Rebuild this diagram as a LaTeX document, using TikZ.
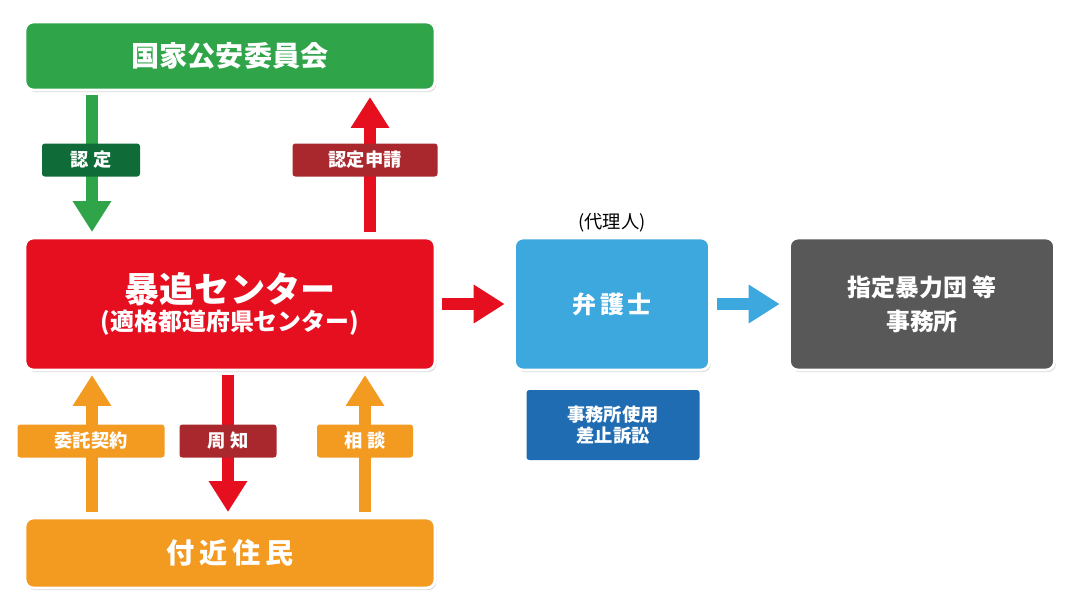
\documentclass[tikz,border=0pt]{standalone}
\usepackage{fontspec}
\setmainfont{Noto Sans CJK JP}
\newfontfamily\jpbold{Noto Sans CJK JP}[BoldFont=*]
\usetikzlibrary{arrows.meta,shadows}
\definecolor{kgreen}{HTML}{2FA448}
\definecolor{dgreen}{HTML}{0F6B37}
\definecolor{kred}{HTML}{E50F1F}
\definecolor{dred}{HTML}{A8282E}
\definecolor{korange}{HTML}{F39A21}
\definecolor{kblue}{HTML}{3DA8DE}
\definecolor{dblue}{HTML}{1F6CB3}
\definecolor{kgray}{HTML}{585858}
\tikzset{
    box/.style={draw=white, line width=2pt, rounded corners=6pt, text=white,
        font=\bfseries, drop shadow={shadow xshift=1pt, shadow yshift=-1.5pt, opacity=.3}},
    tag/.style={rounded corners=2pt, text=white, font=\bfseries\fontsize{13pt}{15pt}\selectfont,
        inner sep=0pt, align=center},
    fat/.style={line width=8pt, -{Triangle[length=22pt,width=26pt]}},
}
\begin{document}
\begin{tikzpicture}[x=0.025cm,y=-0.025cm]
    \useasboundingbox (0,0) rectangle (1082,614);
    % 上段
    \node[box, fill=kgreen, minimum width=410*0.025cm, minimum height=68*0.025cm,
        font=\bfseries\fontsize{20pt}{24pt}\selectfont] (iinkai) at (230,56) {国家公安委員会};
    % 暴追センター
    \node[box, fill=kred, minimum width=410*0.025cm, minimum height=132*0.025cm, align=center]
        (center) at (230,304) {{\fontsize{25pt}{30pt}\selectfont 暴追センター}\\[2pt]
        {\fontsize{17pt}{20pt}\selectfont (適格都道府県センター)}};
    % 付近住民
    \node[box, fill=korange, minimum width=410*0.025cm, minimum height=70*0.025cm,
        font=\bfseries\fontsize{20pt}{24pt}\selectfont] (jumin) at (230,553) {付\,近\,住\,民};
    % 弁護士
    \node[box, fill=kblue, minimum width=195*0.025cm, minimum height=132*0.025cm,
        font=\bfseries\fontsize{17pt}{20pt}\selectfont] (bengoshi) at (612,304) {弁\,護\,士};
    \node[font=\fontsize{13pt}{15pt}\selectfont, anchor=south] (dairi) at (bengoshi.north) {(代理人)};
    % 暴力団
    \node[box, fill=kgray, minimum width=265*0.025cm, minimum height=132*0.025cm, align=center,
        font=\bfseries\fontsize{17pt}{24pt}\selectfont] (jimusho) at (922,304) {指定暴力団 等\\事務所};
    \node[tag, fill=dblue, minimum width=173*0.025cm, minimum height=70*0.025cm] (sosho)
        at (613,425) {事務所使用\\差止訴訟};

    % 矢印
    \coordinate (a1) at (92,95);  \coordinate (a2) at (92,232);
    \draw[fat, kgreen] (a1) -- (a2);
    \coordinate (b1) at (370,232); \coordinate (b2) at (370,97);
    \draw[fat, kred] (b1) -- (b2);
    \coordinate (c1) at (92,512);  \coordinate (c2) at (92,375);
    \draw[fat, korange] (c1) -- (c2);
    \coordinate (d1) at (228,375); \coordinate (d2) at (228,512);
    \draw[fat, kred] (d1) -- (d2);
    \coordinate (e1) at (365,512); \coordinate (e2) at (365,375);
    \draw[fat, korange] (e1) -- (e2);
    \draw[fat, kred] (center.east) ++(6,0) -- ([xshift=-6]bengoshi.west);
    \draw[fat, kblue] (bengoshi.east) ++(6,0) -- ([xshift=-6]jimusho.west);

    % ラベル
    \node[tag, fill=dgreen, minimum width=98*0.025cm, minimum height=33*0.025cm] (t1) at (91,160) {認\ 定};
    \node[tag, fill=dred, minimum width=145*0.025cm, minimum height=33*0.025cm] (t2) at (365,160) {認定申請};
    \node[tag, fill=korange, minimum width=147*0.025cm, minimum height=33*0.025cm] (t3) at (91,441) {委託契約};
    \node[tag, fill=dred, minimum width=97*0.025cm, minimum height=33*0.025cm] (t4) at (228,441) {周\ 知};
    \node[tag, fill=korange, minimum width=96*0.025cm, minimum height=33*0.025cm] (t5) at (365,441) {相\ 談};
\end{tikzpicture}
\end{document}
